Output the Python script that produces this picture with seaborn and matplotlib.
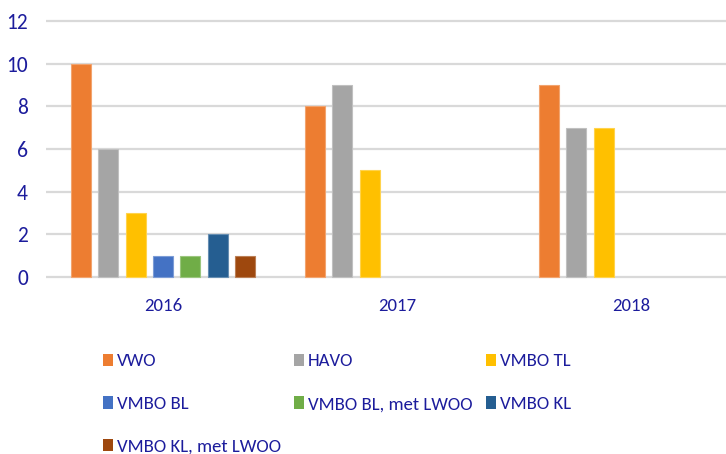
import matplotlib
matplotlib.use("Agg")
import matplotlib.pyplot as plt
import seaborn as sns
import pandas as pd
from matplotlib.patches import Patch
import matplotlib.colors as mcolors

years = ["2016", "2017", "2018"]
series = ["VWO", "HAVO", "VMBO TL", "VMBO BL", "VMBO BL, met LWOO", "VMBO KL", "VMBO KL, met LWOO"]
vwo = [10, 8, 9]
havo = [6, 9, 7]
vmbo_tl = [3, 5, 7]
vmbo_bl = [1, 0, 0]
vmbo_bl_lwoo = [1, 0, 0]
vmbo_kl = [2, 0, 0]
vmbo_kl_lwoo = [1, 0, 0]
colors = ["#ED7D31", "#A5A5A5", "#FFC000", "#4472C4", "#70AD47", "#255E91", "#9E480E"]
yticks = [0, 2, 4, 6, 8, 10, 12]

values = [vwo, havo, vmbo_tl, vmbo_bl, vmbo_bl_lwoo, vmbo_kl, vmbo_kl_lwoo]
rows = []
for s, vals in zip(series, values):
    for y, v in zip(years, vals):
        rows.append({"year": y, "type": s, "value": v})
df = pd.DataFrame(rows)

sns.set_theme(style="white")
plt.rcParams["font.family"] = ["Carlito", "Liberation Sans", "DejaVu Sans"]
text_color = "#1c1c9c"

fig = plt.figure(figsize=(7.26, 4.54), dpi=100)
ax = fig.add_axes([46 / 726, 0.3828, 1 - 46 / 726, 0.578])

sns.barplot(data=df, x="year", y="value", hue="type", hue_order=series,
            palette=colors, saturation=1, width=0.82, gap=0.27, ax=ax,
            legend=False, errorbar=None, zorder=3)

for p in ax.patches:
    if p.get_height() == 0:
        p.set_linewidth(0)
    else:
        fc = mcolors.to_rgb(p.get_facecolor())
        light = tuple(c + (1 - c) * 0.3 for c in fc)
        p.set_edgecolor(light)
        p.set_linewidth(0.8)

ax.set_xlim(-0.5, -0.5 + 680 / 234)
ax.set_ylim(-0.15, 12.15)
ax.set_yticks(yticks)
ax.yaxis.grid(True, color="#d9d9d9", linewidth=1.6, zorder=0)
ax.set_axisbelow(True)
for sp in ax.spines.values():
    sp.set_visible(False)
ax.set_xlabel("")
ax.set_ylabel("")
ax.tick_params(axis="y", length=0, pad=13, labelsize=15.5, labelcolor=text_color)
ax.tick_params(axis="x", length=0, pad=13, labelsize=13.5, labelcolor=text_color)

# legend, row-major order
order = [0, 3, 6, 1, 4, 2, 5]
handles = [Patch(facecolor=colors[i], edgecolor="none") for i in order]
labels = [series[i] for i in order]
fig.legend(handles, labels, ncol=3, loc="upper left",
           bbox_to_anchor=(103 / 726, (454 - 353.5) / 454),
           frameon=False, fontsize=13.5, handlelength=0.53, handleheight=0.64,
           handletextpad=0.2, labelspacing=1.42, columnspacing=0.72,
           borderpad=0, borderaxespad=0, labelcolor=text_color)

fig.savefig("out.png", dpi=100)
